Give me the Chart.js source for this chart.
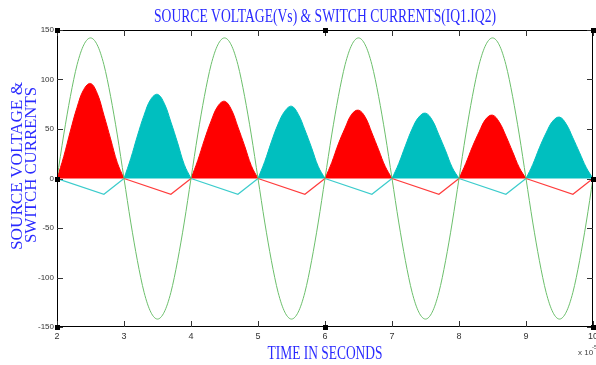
<!DOCTYPE html>
<html>
<head>
<meta charset="utf-8">
<script src="https://cdn.jsdelivr.net/npm/chart.js@4/dist/chart.umd.min.js"></script>
<style>
  html, body { margin: 0; padding: 0; background: #fff; }
</style>
</head>
<body>
<canvas id="chart" width="596" height="365"></canvas>
<script>
// time axis (x 10^-5 s) and amplitude axis
const timeTicks = [2, 3, 4, 5, 6, 7, 8, 9, 10];
const ampTicks = [-150, -100, -50, 0, 50, 100, 150];

// source voltage, sampled every 0.1 from t = 2 to t = 10
const sourceVoltage = [
  0, 44, 83, 115, 135, 142, 135, 115, 83, 44, 0, -44, -83, -115, -135, -142, -135, -115, -83, -44,
  0, 44, 83, 115, 135, 142, 135, 115, 83, 44, 0, -44, -83, -115, -135, -142, -135, -115, -83, -44,
  0, 44, 83, 115, 135, 142, 135, 115, 83, 44, 0, -44, -83, -115, -135, -142, -135, -115, -83, -44,
  0, 44, 83, 115, 135, 142, 135, 115, 83, 44, 0, -44, -83, -115, -135, -142, -135, -115, -83, -44,
  0
];

// switch current pulses, sampled every 0.1 inside each conduction interval
const pulseOffsets = [0, 0.1, 0.2, 0.3, 0.4, 0.5, 0.6, 0.7, 0.8, 0.9, 1.0];
const iq1Starts = [2, 4, 6, 8];
const iq1Pulses = [
  [0, 22, 48, 72, 90, 96, 86, 64, 40, 16, 0],
  [0, 18, 39, 58, 73, 78, 70, 52, 33, 13, 0],
  [0, 16, 35, 51, 65, 69, 62, 46, 29, 12, 0],
  [0, 15, 32, 47, 60, 64, 57, 43, 27, 11, 0]
];
const iq2Starts = [3, 5, 7, 9];
const iq2Pulses = [
  [0, 20, 43, 64, 80, 85, 76, 57, 36, 14, 0],
  [0, 17, 37, 55, 68, 73, 65, 49, 31, 12, 0],
  [0, 15, 33, 50, 62, 66, 59, 44, 28, 11, 0],
  [0, 14, 31, 46, 58, 62, 55, 41, 26, 11, 0]
];

// small negative (diode) currents while the other switch conducts
const dipOffsets = [0, 0.7, 1.0];
const iq1Dips = [[0, -16, 0], [0, -16, 0], [0, -16, 0], [0, -16, 0]];   // during iq2Starts
const iq2Dips = [[0, -16, 0], [0, -16, 0], [0, -16, 0], [0, -16, 0]];   // during iq1Starts

function pulsePoints(starts, pulses, offsets) {
  const pts = [];
  starts.forEach((s, i) => {
    pulses[i].forEach((v, j) => pts.push({ x: +(s + offsets[j]).toFixed(2), y: v }));
    pts.push({ x: s + 1.001, y: null });
  });
  return pts;
}

const voltagePoints = sourceVoltage.map((v, i) => ({ x: +(2 + i * 0.1).toFixed(2), y: v }));

const frame = {
  id: 'frame',
  afterDatasetsDraw(chart) {
    const { ctx, chartArea: a, scales } = chart;
    ctx.save();
    ctx.strokeStyle = '#000';
    ctx.lineWidth = 1;
    ctx.strokeRect(a.left + 0.5, a.top + 0.5, a.right - a.left - 1, a.bottom - a.top - 1);
    ctx.strokeStyle = '#333';
    ctx.beginPath();
    timeTicks.forEach(t => {
      const x = Math.round(scales.x.getPixelForValue(t)) + 0.5;
      ctx.moveTo(x, a.top); ctx.lineTo(x, a.top + 6);
      ctx.moveTo(x, a.bottom); ctx.lineTo(x, a.bottom - 6);
    });
    ampTicks.forEach(v => {
      const y = Math.round(scales.y.getPixelForValue(v)) + 0.5;
      ctx.moveTo(a.left, y); ctx.lineTo(a.left + 6, y);
      ctx.moveTo(a.right, y); ctx.lineTo(a.right - 6, y);
    });
    ctx.stroke();
    // selection handles
    const mx = (a.left + a.right) / 2, my = scales.y.getPixelForValue(0);
    ctx.fillStyle = '#000';
    [[a.left, a.top], [mx, a.top], [a.right, a.top], [a.left, my], [a.right, my],
     [a.left, a.bottom], [mx, a.bottom], [a.right, a.bottom]].forEach(([x, y]) => {
      ctx.fillRect(Math.round(x) - 2, Math.round(y) - 2, 5, 5);
    });
    ctx.restore();
  },
  afterDraw(chart) {
    const { ctx, chartArea: a } = chart;
    const blue = '#2a2aff';
    const fit = (text, x, y, width, size, angle) => {
      ctx.save();
      ctx.font = size + 'px "Liberation Serif", "Times New Roman", serif';
      ctx.fillStyle = blue;
      ctx.textAlign = 'center';
      ctx.textBaseline = 'alphabetic';
      const w = ctx.measureText(text).width;
      ctx.translate(x, y);
      ctx.rotate(angle || 0);
      ctx.scale(width / w, 1);
      ctx.fillText(text, 0, 0);
      ctx.restore();
    };
    const cx = (a.left + a.right) / 2;
    fit('SOURCE VOLTAGE(Vs) & SWITCH CURRENTS(IQ1.IQ2)', cx, 22, 342, 18);
    fit('TIME IN SECONDS', cx, 359, 115, 19);
    fit('SOURCE VOLTAGE &', 22, 166, 168, 17, -Math.PI / 2);
    fit('SWITCH CURRENTS', 36, 165, 156, 17, -Math.PI / 2);
    ctx.save();
    ctx.fillStyle = '#444';
    ctx.font = '8px "Liberation Sans", Arial, sans-serif';
    ctx.textAlign = 'left';
    ctx.fillText('x 10', 578, 355);
    ctx.font = '6px "Liberation Sans", Arial, sans-serif';
    ctx.fillText('-5', 592, 349);
    ctx.restore();
  }
};

new Chart(document.getElementById('chart'), {
  type: 'line',
  data: {
    datasets: [
      {
        label: 'Vs',
        data: voltagePoints,
        borderColor: '#6cbf6c',
        borderWidth: 1,
        pointRadius: 0,
        cubicInterpolationMode: 'monotone',
        fill: false
      },
      {
        label: 'IQ1 reverse',
        data: pulsePoints(iq2Starts, iq1Dips, dipOffsets),
        borderColor: '#ff3c3c',
        borderWidth: 1.2,
        pointRadius: 0,
        tension: 0,
        fill: false
      },
      {
        label: 'IQ2 reverse',
        data: pulsePoints(iq1Starts, iq2Dips, dipOffsets),
        borderColor: '#3ccccc',
        borderWidth: 1.2,
        pointRadius: 0,
        tension: 0,
        fill: false
      },
      {
        label: 'IQ1',
        data: pulsePoints(iq1Starts, iq1Pulses, pulseOffsets),
        borderColor: '#ff0000',
        backgroundColor: '#ff0000',
        borderWidth: 1,
        pointRadius: 0,
        tension: 0.4,
        spanGaps: false,
        fill: 'origin'
      },
      {
        label: 'IQ2',
        data: pulsePoints(iq2Starts, iq2Pulses, pulseOffsets),
        borderColor: '#00bfbf',
        backgroundColor: '#00bfbf',
        borderWidth: 1,
        pointRadius: 0,
        tension: 0.4,
        spanGaps: false,
        fill: 'origin'
      }
    ]
  },
  options: {
    responsive: false,
    animation: false,
    layout: { padding: { top: 30, right: -4, bottom: 0, left: 0 } },
    plugins: { legend: { display: false }, tooltip: { enabled: false }, title: { display: false } },
    scales: {
      x: {
        type: 'linear',
        min: 2,
        max: 10,
        afterFit: s => { s.height = 38; s.paddingRight = 3; },
        afterBuildTicks: s => { s.ticks = timeTicks.map(v => ({ value: v })); },
        grid: { display: false, drawTicks: false },
        border: { display: false },
        ticks: { color: '#333', padding: 4, maxRotation: 0, font: { size: 9, family: 'Liberation Sans' } }
      },
      y: {
        type: 'linear',
        min: -150,
        max: 150,
        afterFit: s => { s.width = 57; },
        afterBuildTicks: s => { s.ticks = ampTicks.map(v => ({ value: v })); },
        grid: { display: false, drawTicks: false },
        border: { display: false },
        ticks: { color: '#333', padding: 3, font: { size: 8, family: 'Liberation Sans' } }
      }
    }
  },
  plugins: [frame]
});
</script>
</body>
</html>
